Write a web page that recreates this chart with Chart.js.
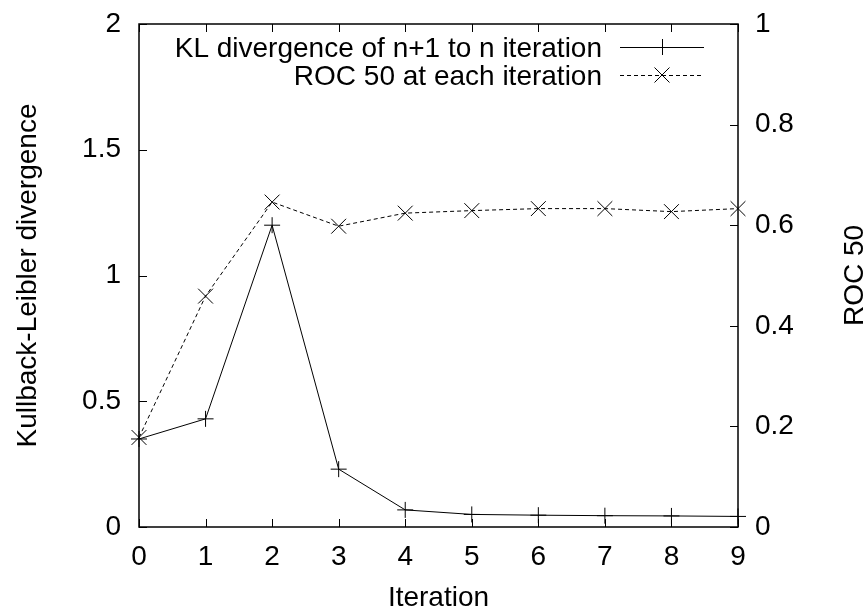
<!DOCTYPE html>
<html>
<head>
<meta charset="utf-8">
<script src="https://cdn.jsdelivr.net/npm/chart.js@4.4.0/dist/chart.umd.min.js"></script>
<style>
  html, body { margin: 0; padding: 0; background: #fff; }
  #wrap { width: 867px; height: 610px; position: relative; }
</style>
</head>
<body>
<div id="wrap"><canvas id="c" width="867" height="610"></canvas></div>
<script>
// ---- data ----
const iterations = [0, 1, 2, 3, 4, 5, 6, 7, 8, 9];
const klDivergence = [0.35, 0.43, 1.20, 0.23, 0.068, 0.05, 0.047, 0.045, 0.044, 0.042];
const roc50 = [0.178, 0.459, 0.646, 0.598, 0.624, 0.629, 0.633, 0.633, 0.627, 0.633];
const xTickValues = [0, 1, 2, 3, 4, 5, 6, 7, 8, 9];
const klTickValues = [0, 0.5, 1, 1.5, 2];
const rocTickValues = [0, 0.2, 0.4, 0.6, 0.8, 1];
const seriesLabels = ['KL divergence of n+1 to n iteration', 'ROC 50 at each iteration'];
const axisTitles = { x: 'Iteration', left: 'Kullback-Leibler divergence', right: 'ROC 50' };

const FONT = '"Liberation Sans", Arial, Helvetica, sans-serif';
const FS = 28;

function setTicks(values) {
  return function (scale) { scale.ticks = values.map(v => ({ value: v })); };
}
function fmt(v) { return String(Math.round(v * 1000) / 1000); }

const frameTicks = {
  id: 'frameTicks',
  afterDatasetsDraw(chart) {
    const ctx = chart.ctx;
    const a = chart.chartArea;
    const L = 8;
    ctx.save();
    ctx.strokeStyle = '#000';
    ctx.lineWidth = 1.5;
    ctx.strokeRect(a.left, a.top, a.right - a.left, a.bottom - a.top);
    ctx.lineWidth = 1;
    ctx.beginPath();
    const xs = chart.scales.x;
    xTickValues.forEach(v => {
      const px = Math.round(xs.getPixelForValue(v)) + 0.5;
      ctx.moveTo(px, a.bottom); ctx.lineTo(px, a.bottom - L);
      ctx.moveTo(px, a.top); ctx.lineTo(px, a.top + L);
    });
    const yl = chart.scales.y;
    klTickValues.forEach(v => {
      const py = Math.round(yl.getPixelForValue(v)) + 0.5;
      ctx.moveTo(a.left, py); ctx.lineTo(a.left + L, py);
    });
    const yr = chart.scales.y2;
    rocTickValues.forEach(v => {
      const py = Math.round(yr.getPixelForValue(v)) + 0.5;
      ctx.moveTo(a.right, py); ctx.lineTo(a.right - L, py);
    });
    ctx.stroke();

    // right axis title (reads bottom to top)
    ctx.fillStyle = '#000';
    ctx.font = FS + 'px ' + FONT;
    ctx.textAlign = 'center';
    ctx.textBaseline = 'middle';
    ctx.translate(855, (a.top + a.bottom) / 2);
    ctx.rotate(-Math.PI / 2);
    ctx.fillText(axisTitles.right, 0, 0);
    ctx.restore();

    // legend
    ctx.save();
    ctx.font = FS + 'px ' + FONT;
    ctx.fillStyle = '#000';
    ctx.textAlign = 'right';
    ctx.textBaseline = 'middle';
    const rows = [49, 77];
    const textRight = 602, lx0 = 620, lx1 = 704, mx = 662;
    chart.data.datasets.forEach((ds, i) => {
      const y = rows[i];
      ctx.fillText(ds.label, textRight, y);
      const ly = y - 2;
      ctx.strokeStyle = '#000';
      ctx.lineWidth = 1;
      ctx.setLineDash(ds.borderDash || []);
      ctx.beginPath();
      ctx.moveTo(lx0, ly + 0.5); ctx.lineTo(lx1, ly + 0.5);
      ctx.stroke();
      ctx.setLineDash([]);
      ctx.beginPath();
      if (i === 0) {
        ctx.moveTo(mx + 0.5, ly - 8); ctx.lineTo(mx + 0.5, ly + 8);
      } else {
        ctx.moveTo(mx - 7.5, ly - 7.5); ctx.lineTo(mx + 7.5, ly + 7.5);
        ctx.moveTo(mx - 7.5, ly + 7.5); ctx.lineTo(mx + 7.5, ly - 7.5);
      }
      ctx.stroke();
    });
    ctx.restore();
  }
};

const tickFont = { family: FONT, size: FS, lineHeight: 1.2 };
const titleFont = { family: FONT, size: FS, lineHeight: 1 };

function fitY(w) {
  return function (s) { s.width = w; s.paddingTop = 0; s.paddingBottom = 0; };
}

new Chart(document.getElementById('c'), {
  type: 'line',
  data: {
    datasets: [
      {
        label: seriesLabels[0],
        data: iterations.map((x, i) => ({ x: x, y: klDivergence[i] })),
        yAxisID: 'y',
        borderColor: '#000',
        borderWidth: 1,
        pointStyle: 'cross',
        pointRadius: 8,
        pointBorderWidth: 1,
        pointBorderColor: '#000',
        fill: false,
        tension: 0,
        clip: false
      },
      {
        label: seriesLabels[1],
        data: iterations.map((x, i) => ({ x: x, y: roc50[i] })),
        yAxisID: 'y2',
        borderColor: '#000',
        borderWidth: 1,
        borderDash: [4, 3],
        pointStyle: 'crossRot',
        pointRadius: 10.5,
        pointBorderWidth: 1,
        pointBorderColor: '#000',
        fill: false,
        tension: 0,
        clip: false
      }
    ]
  },
  options: {
    responsive: false,
    devicePixelRatio: 1,
    animation: false,
    layout: { padding: { top: 24, left: 0, right: 0, bottom: 0 } },
    plugins: { legend: { display: false }, tooltip: { enabled: false } },
    scales: {
      x: {
        type: 'linear',
        position: 'bottom',
        min: 0, max: 9,
        afterBuildTicks: setTicks(xTickValues),
        afterFit(s) { s.height = 83; s.paddingLeft = 0; s.paddingRight = 0; },
        grid: { display: false, drawTicks: false },
        border: { display: false },
        ticks: { font: tickFont, color: '#000', padding: 13, maxRotation: 0, callback: fmt },
        title: { display: true, text: axisTitles.x, font: titleFont, color: '#000', padding: { top: 0, bottom: -2 } }
      },
      y: {
        type: 'linear',
        position: 'left',
        min: 0, max: 2,
        afterBuildTicks: setTicks(klTickValues),
        afterFit: fitY(139),
        grid: { display: false, drawTicks: false },
        border: { display: false },
        ticks: { font: tickFont, color: '#000', padding: 18, callback: fmt },
        title: { display: true, text: axisTitles.left, font: titleFont, color: '#000', padding: { top: 14, bottom: 0 } }
      },
      y2: {
        type: 'linear',
        position: 'right',
        min: 0, max: 1,
        afterBuildTicks: setTicks(rocTickValues),
        afterFit: fitY(129),
        grid: { display: false, drawTicks: false },
        border: { display: false },
        ticks: { font: tickFont, color: '#000', padding: 17, callback: fmt }
      }
    }
  },
  plugins: [frameTicks]
});
</script>
</body>
</html>
